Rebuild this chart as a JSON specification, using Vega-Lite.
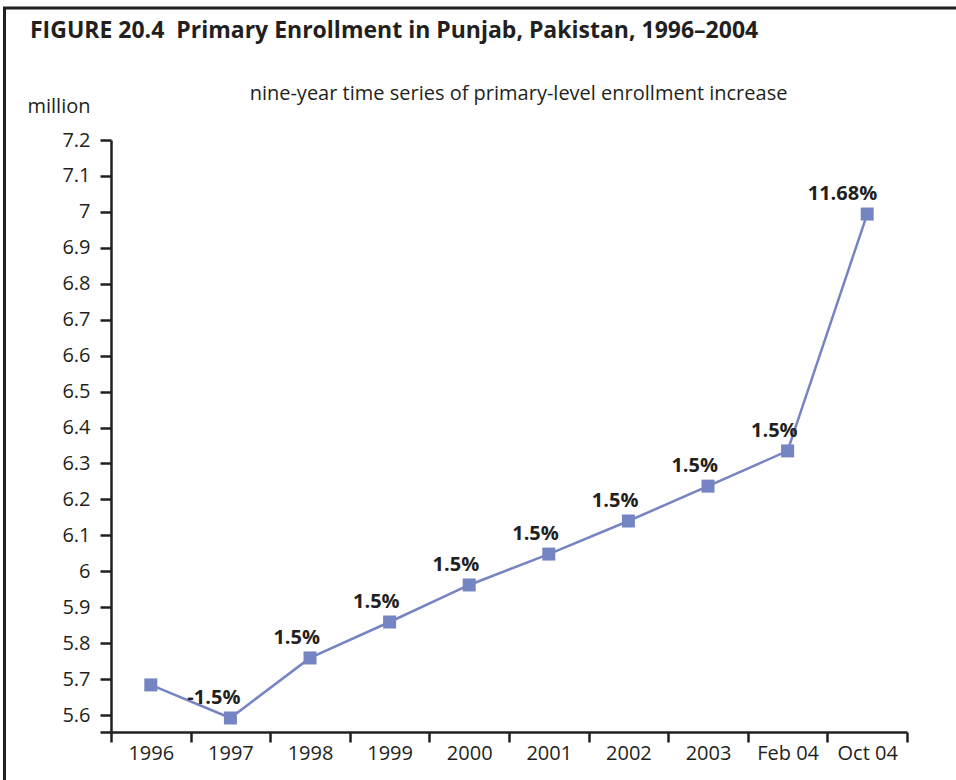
{
  "$schema": "https://vega.github.io/schema/vega-lite/v6.json",
  "width": 796,
  "height": 592,
  "autosize": "none",
  "padding": {"left": 111, "top": 140, "right": 49, "bottom": 48},
  "background": "white",
  "config": {
    "font": "Open Sans",
    "view": {"stroke": null},
    "legend": {"strokeWidth": 3},
    "axis": {
      "domainColor": "#231f20",
      "domainWidth": 2.5,
      "tickColor": "#231f20",
      "tickWidth": 2.5,
      "labelColor": "#231f20",
      "labelFont": "Open Sans",
      "labelFontSize": 20,
      "labelOverlap": false,
      "titleFont": "Open Sans",
      "titleColor": "#231f20",
      "titleFontSize": 20,
      "titleFontWeight": "normal",
      "grid": false
    }
  },
  "title": {
    "text": "FIGURE 20.4\u00a0 Primary Enrollment in Punjab, Pakistan, 1996–2004",
    "anchor": "start",
    "frame": "group",
    "dx": -81,
    "offset": 0,
    "dy": 47,
    "baseline": "middle",
    "fontSize": 23,
    "fontWeight": "bold",
    "font": "Open Sans",
    "color": "#231f20"
  },
  "data": {
    "values": [
      {"period": "1996", "value": 5.684, "label": "", "series": "enrollment"},
      {"period": "1997", "value": 5.592, "label": "-1.5%", "series": "enrollment"},
      {"period": "1998", "value": 5.759, "label": "1.5%", "series": "enrollment"},
      {"period": "1999", "value": 5.859, "label": "1.5%", "series": "enrollment"},
      {"period": "2000", "value": 5.962, "label": "1.5%", "series": "enrollment"},
      {"period": "2001", "value": 6.048, "label": "1.5%", "series": "enrollment"},
      {"period": "2002", "value": 6.14, "label": "1.5%", "series": "enrollment"},
      {"period": "2003", "value": 6.237, "label": "1.5%", "series": "enrollment"},
      {"period": "Feb 04", "value": 6.335, "label": "1.5%", "series": "enrollment"},
      {"period": "Oct 04", "value": 6.994, "label": "11.68%", "series": "enrollment"}
    ]
  },
  "encoding": {
    "y": {
      "field": "value", "type": "quantitative",
      "scale": {"domain": [5.553, 7.2], "nice": false, "zero": false},
      "axis": {
        "values": [5.553, 5.6, 5.7, 5.8, 5.9, 6, 6.1, 6.2, 6.3, 6.4, 6.5, 6.6, 6.7, 6.8, 6.9, 7, 7.1, 7.2],
        "labelExpr": "datum.value < 5.58 ? '' : format(datum.value, '.1~f')",
        "labelOverlap": false,
        "tickSize": 11, "labelPadding": 10,
        "title": "million", "titleAngle": 0, "titleX": -84, "titleY": -34,
        "titleAlign": "left", "titleBaseline": "middle"
      }
    }
  },
  "layer": [
    {
      "mark": {"type": "line", "color": "#7584C2", "strokeWidth": 2.5},
      "encoding": {
        "x": {
          "field": "period", "type": "nominal", "sort": null, "bandPosition": 0.5,
          "scale": {"type": "band", "paddingInner": 0, "paddingOuter": 0},
          "axis": {
            "orient": "bottom", "title": null, "labelAngle": 0, "tickBand": "extent",
            "tickSize": 10, "labelPadding": 1
          }
        }
      }
    },
    {
      "mark": {"type": "point", "shape": "square", "filled": true, "size": 169, "opacity": 1},
      "encoding": {
        "x": {
          "field": "period", "type": "nominal", "sort": null, "bandPosition": 0.5,
          "axis": {
            "orient": "top", "labels": false, "ticks": false, "domain": false,
            "title": "nine-year time series of primary-level enrollment increase",
            "titleX": 407, "titleY": -47, "titleAlign": "center", "titleBaseline": "middle"
          }
        },
        "color": {
          "field": "series", "type": "nominal",
          "scale": {"range": ["#7584C2"]},
          "legend": {
            "orient": "none", "legendX": -106.5, "legendY": -132,
            "padding": 480, "strokeColor": "#231f20", "title": null,
            "symbolOpacity": 0, "labelOpacity": 0
          }
        }
      }
    },
    {
      "mark": {"type": "text", "align": "right", "baseline": "middle", "dx": 10, "dy": -20, "fontSize": 20, "fontWeight": "bold", "color": "#231f20", "font": "Open Sans"},
      "encoding": {
        "x": {"field": "period", "type": "nominal", "sort": null, "bandPosition": 0.5, "axis": null},
        "text": {"field": "label"}
      }
    }
  ],
  "resolve": {"axis": {"x": "independent"}}
}
